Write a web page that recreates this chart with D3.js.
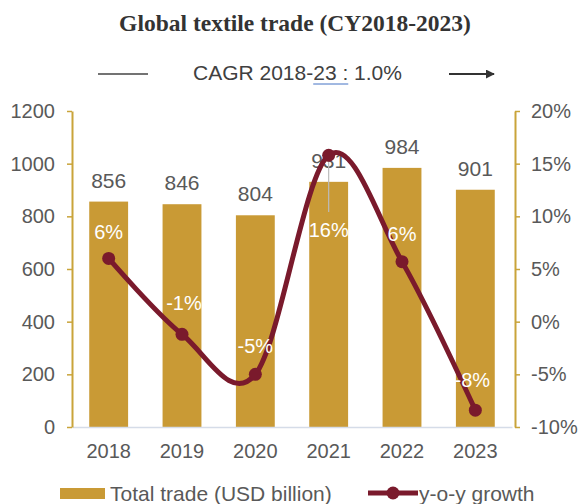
<!DOCTYPE html>
<html><head><meta charset="utf-8">
<script src="https://cdn.jsdelivr.net/npm/d3@7"></script>
<style>body{margin:0;background:#fff}svg{display:block}</style>
</head><body>
<svg id="c" width="580" height="504"></svg>
<script>
const years = ["2018","2019","2020","2021","2022","2023"];
const trade = [856, 846, 804, 931, 984, 901];
const growth = [6.0, -1.2, -5.0, 15.8, 5.7, -8.4];
const growthLabels = ["6%","-1%","-5%","16%","6%","-8%"];
const leftTicks = [0,200,400,600,800,1000,1200];
const rightTicks = [-10,-5,0,5,10,15,20];

const svg = d3.select("#c");
const font = "Liberation Sans, Arial, sans-serif";
const gold = "#C99A35", axisGold = "#C9A43A", maroon = "#7A1A2C", gray = "#595959";

const x = d3.scaleBand().domain(years).range([72, 512]).paddingInner(0.47).paddingOuter(0.235);
const yL = d3.scaleLinear().domain([0, 1200]).range([427, 111]);
const yR = d3.scaleLinear().domain([-10, 20]).range([427, 111]);

// title
svg.append("text").attr("x", 295).attr("y", 31).attr("text-anchor", "middle")
  .attr("font-family", "Liberation Serif, Times New Roman, serif").attr("font-weight", "bold")
  .attr("font-size", 23.5).attr("fill", "#333").text("Global textile trade (CY2018-2023)");

// CAGR line
svg.append("line").attr("x1", 98).attr("x2", 148).attr("y1", 74).attr("y2", 74).attr("stroke", "#444").attr("stroke-width", 1.3);
const pre = "CAGR 2018-", mid = "23 :", post = " 1.0%";
const cg = svg.append("text").attr("x", 193).attr("y", 80).attr("font-family", font).attr("font-size", 21).attr("fill", "#404040")
  .text(pre + mid + post);
const node = cg.node();
const ux0 = 193 + node.getSubStringLength(0, pre.length);
const uw = node.getSubStringLength(pre.length, mid.length);
svg.append("line").attr("x1", ux0).attr("x2", ux0 + uw).attr("y1", 84).attr("y2", 84).attr("stroke", "#4472C4").attr("stroke-width", 1);
const defs = svg.append("defs");
defs.append("marker").attr("id", "ah").attr("viewBox", "0 0 10 10").attr("refX", 9).attr("refY", 5)
  .attr("markerWidth", 5).attr("markerHeight", 5).attr("orient", "auto")
  .append("path").attr("d", "M0,0L10,5L0,10z").attr("fill", "#333");
svg.append("line").attr("x1", 449).attr("x2", 494).attr("y1", 74).attr("y2", 74).attr("stroke", "#333").attr("stroke-width", 1.8).attr("marker-end", "url(#ah)");

// bars
svg.append("g").selectAll("rect").data(years).join("rect")
  .attr("x", d => x(d)).attr("width", x.bandwidth())
  .attr("y", (d, i) => yL(trade[i])).attr("height", (d, i) => yL(0) - yL(trade[i]))
  .attr("fill", gold);

// x axis
const gx = svg.append("g").attr("transform", "translate(0,427)").call(d3.axisBottom(x).tickSize(0).tickPadding(17));
gx.select(".domain").attr("stroke", "#D5DCE8").attr("stroke-width", 1.5);
gx.selectAll("text").attr("font-family", font).attr("font-size", 20).attr("fill", gray);

// left axis
const gl = svg.append("g").attr("transform", "translate(72,0)").call(d3.axisLeft(yL).tickValues(leftTicks).tickFormat(d3.format("d")).tickSize(5).tickSizeOuter(0).tickPadding(12));
gl.select(".domain").attr("stroke", axisGold).attr("stroke-width", 2);
gl.selectAll("line").attr("stroke", axisGold).attr("stroke-width", 1.5);
gl.selectAll("text").attr("font-family", font).attr("font-size", 20).attr("fill", gray);

// right axis
const gr = svg.append("g").attr("transform", "translate(515,0)").call(d3.axisRight(yR).tickValues(rightTicks).tickSize(5).tickSizeOuter(0).tickPadding(11).tickFormat(d => d + "%"));
gr.select(".domain").attr("stroke", axisGold).attr("stroke-width", 2);
gr.selectAll("line").attr("stroke", axisGold).attr("stroke-width", 1.5);
gr.selectAll("text").attr("font-family", font).attr("font-size", 20).attr("fill", gray);

// value labels
svg.append("g").selectAll("text").data(years).join("text")
  .attr("x", d => x(d) + x.bandwidth() / 2).attr("y", (d, i) => yL(trade[i]) - 14)
  .attr("text-anchor", "middle").attr("font-family", font).attr("font-size", 21).attr("fill", gray)
  .text((d, i) => trade[i]);

// leader line 2021
svg.append("line").attr("x1", x("2021") + x.bandwidth() / 2).attr("x2", x("2021") + x.bandwidth() / 2)
  .attr("y1", 162).attr("y2", 212).attr("stroke", "#BBBBBB").attr("stroke-width", 1.2);

// growth line
const pts = years.map((d, i) => [x(d) + x.bandwidth() / 2, yR(growth[i])]);
svg.append("path").attr("d", d3.line().curve(d3.curveCatmullRom.alpha(0))(pts))
  .attr("fill", "none").attr("stroke", maroon).attr("stroke-width", 5).attr("stroke-linejoin", "round");
svg.append("g").selectAll("circle").data(pts).join("circle")
  .attr("cx", d => d[0]).attr("cy", d => d[1]).attr("r", 6.5).attr("fill", maroon);

// growth labels
const glOff = [[0, -19], [2, -24], [0, -21], [0, 82], [0, -21], [-3, -23]];
svg.append("g").selectAll("text").data(years).join("text")
  .attr("x", (d, i) => pts[i][0] + glOff[i][0]).attr("y", (d, i) => pts[i][1] + glOff[i][1])
  .attr("text-anchor", "middle").attr("font-family", font).attr("font-size", 20).attr("fill", "#fff")
  .text((d, i) => growthLabels[i]);

// legend
svg.append("rect").attr("x", 60).attr("y", 488).attr("width", 45).attr("height", 11).attr("fill", gold);
svg.append("text").attr("x", 110).attr("y", 501).attr("font-family", font).attr("font-size", 21).attr("fill", gray).text("Total trade (USD billion)");
svg.append("line").attr("x1", 368).attr("x2", 418).attr("y1", 493).attr("y2", 493).attr("stroke", maroon).attr("stroke-width", 5);
svg.append("circle").attr("cx", 393).attr("cy", 493).attr("r", 6.5).attr("fill", maroon);
svg.append("text").attr("x", 419).attr("y", 501).attr("font-family", font).attr("font-size", 21).attr("fill", gray).text("y-o-y growth");
</script>
</body></html>
